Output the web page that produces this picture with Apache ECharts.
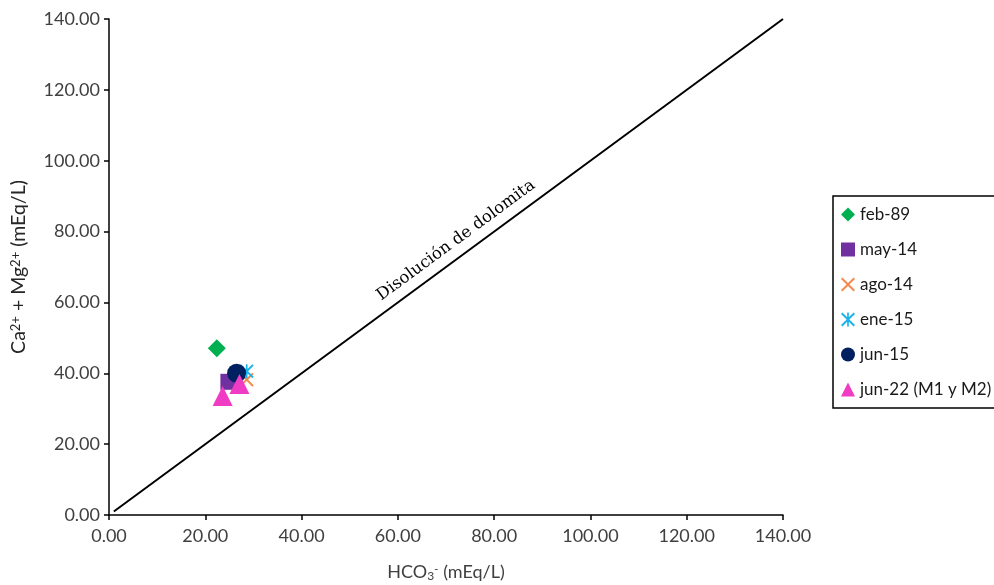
<!DOCTYPE html>
<html>
<head>
<meta charset="utf-8">
<script src="https://cdn.jsdelivr.net/npm/echarts@6/dist/echarts.min.js"></script>
<style>
  html, body { margin: 0; padding: 0; background: #fff; }
  #chart { width: 994px; height: 585px; }
</style>
</head>
<body>
<div id="chart"></div>
<script>
// datos: [HCO3-, Ca2+ + Mg2+] en mEq/L
var feb89 = [[22.4, 47.1]];
var may14 = [[24.8, 37.6]];
var ago14 = [[28.6, 38.2]];
var ene15 = [[28.6, 40.6]];
var jun15 = [[26.5, 40.0]];
var jun22 = [[23.6, 33.6], [27.1, 37.0]];
var lineaDolomita = [[1, 1], [140, 140]];
var tramoEtiqueta = [[8, 8], [140, 140]];
var ejeMin = 0, ejeMax = 140, ejeIntervalo = 20;

var symX = 'path://M0,1 L1,0 L5,4 L9,0 L10,1 L6,5 L10,9 L9,10 L5,6 L1,10 L0,9 L4,5 Z';
var symStar = 'path://M0,1 L1,0 L5,4 L9,0 L10,1 L6,5 L10,9 L9,10 L5,6 L1,10 L0,9 L4,5 Z M4.4,0 L5.6,0 L5.6,10 L4.4,10 Z';

var fuente = 'Lato, "Open Sans", sans-serif';

var chart = echarts.init(document.getElementById('chart'));

var ejeBase = {
    type: 'value',
    min: ejeMin,
    max: ejeMax,
    interval: ejeIntervalo,
    splitLine: { show: false },
    axisLine: { show: true, onZero: false, lineStyle: { color: '#000', width: 1.5 } },
    axisTick: { show: true, inside: false, length: 5, lineStyle: { color: '#000', width: 1.5 } },
    axisLabel: {
        color: '#404040', fontSize: 18, fontFamily: fuente,
        formatter: function (v) { return v.toFixed(2); }
    },
    nameLocation: 'middle'
};

var option = {
    animation: false,
    backgroundColor: '#fff',
    grid: { left: 109, right: 211, top: 19, bottom: 70, containLabel: false, outerBoundsMode: 'none' },
    legend: {
        orient: 'vertical',
        left: 833,
        top: 196,
        padding: [10, 30, 10, 8],
        itemGap: 18,
        itemWidth: 14,
        itemHeight: 14,
        borderColor: '#000',
        borderWidth: 1.5,
        textStyle: { fontSize: 17, fontFamily: fuente, color: '#1a1a1a' },
        data: ['feb-89', 'may-14', 'ago-14', 'ene-15', 'jun-15', 'jun-22 (M1 y M2)']
    },
    series: [
        {
            name: 'dolomita', type: 'line', data: lineaDolomita, symbol: 'none', silent: true,
            lineStyle: { color: '#000', width: 2 }
        },
        {
            // solo para la etiqueta de la recta
            name: 'etiqueta', type: 'line', data: [], silent: true,
            markLine: {
                silent: true, symbol: 'none',
                lineStyle: { color: 'rgba(0,0,0,0)', width: 0.1 },
                label: {
                    show: true, position: 'middle', distance: 7,
                    formatter: 'Disolución de dolomita',
                    fontFamily: '"DejaVu Serif", serif', fontSize: 16.5, color: '#000'
                },
                data: [[{ coord: tramoEtiqueta[0] }, { coord: tramoEtiqueta[1] }]]
            }
        },
        { name: 'feb-89', type: 'scatter', data: feb89, symbol: 'diamond', symbolSize: 18, itemStyle: { color: '#00B050', opacity: 1 } },
        { name: 'may-14', type: 'scatter', data: may14, symbol: 'rect', symbolSize: 16, itemStyle: { color: '#7030A0', opacity: 1 } },
        { name: 'ago-14', type: 'scatter', data: ago14, symbol: symX, symbolSize: 14, itemStyle: { color: '#F4894B', opacity: 1 } },
        { name: 'ene-15', type: 'scatter', data: ene15, symbol: symStar, symbolSize: 14, itemStyle: { color: '#1CB3EB', opacity: 1 } },
        { name: 'jun-15', type: 'scatter', data: jun15, symbol: 'circle', symbolSize: 19, itemStyle: { color: '#002060', opacity: 1 } },
        { name: 'jun-22 (M1 y M2)', type: 'scatter', data: jun22, symbol: 'triangle', symbolSize: 20, itemStyle: { color: '#F03CC4', opacity: 1 } }
    ]
};

option.xAxis = Object.assign({}, ejeBase, {
    axisLabel: Object.assign({}, ejeBase.axisLabel, { margin: 12 }),
    name: 'HCO{sub|3}{sup|-} (mEq/L)',
    nameGap: 48,
    nameTextStyle: {
        color: '#404040', fontSize: 18, fontFamily: fuente,
        rich: {
            sub: { fontSize: 12, fontFamily: fuente, color: '#404040', verticalAlign: 'bottom', padding: [7, 0, 0, 0] },
            sup: { fontSize: 12, fontFamily: fuente, color: '#404040', verticalAlign: 'top', padding: [0, 0, 7, 0] }
        }
    }
});
option.yAxis = Object.assign({}, ejeBase, {
    axisLabel: Object.assign({}, ejeBase.axisLabel, { margin: 9 }),
    name: 'Ca{sup|2+} + Mg{sup|2+} (mEq/L)',
    nameGap: 80,
    nameTextStyle: {
        color: '#262626', fontSize: 19.5, fontFamily: fuente,
        rich: {
            sup: { fontSize: 13, fontFamily: fuente, color: '#262626', verticalAlign: 'top', padding: [0, 0, 7, 0] }
        }
    }
});

chart.setOption(option);
</script>
</body>
</html>
